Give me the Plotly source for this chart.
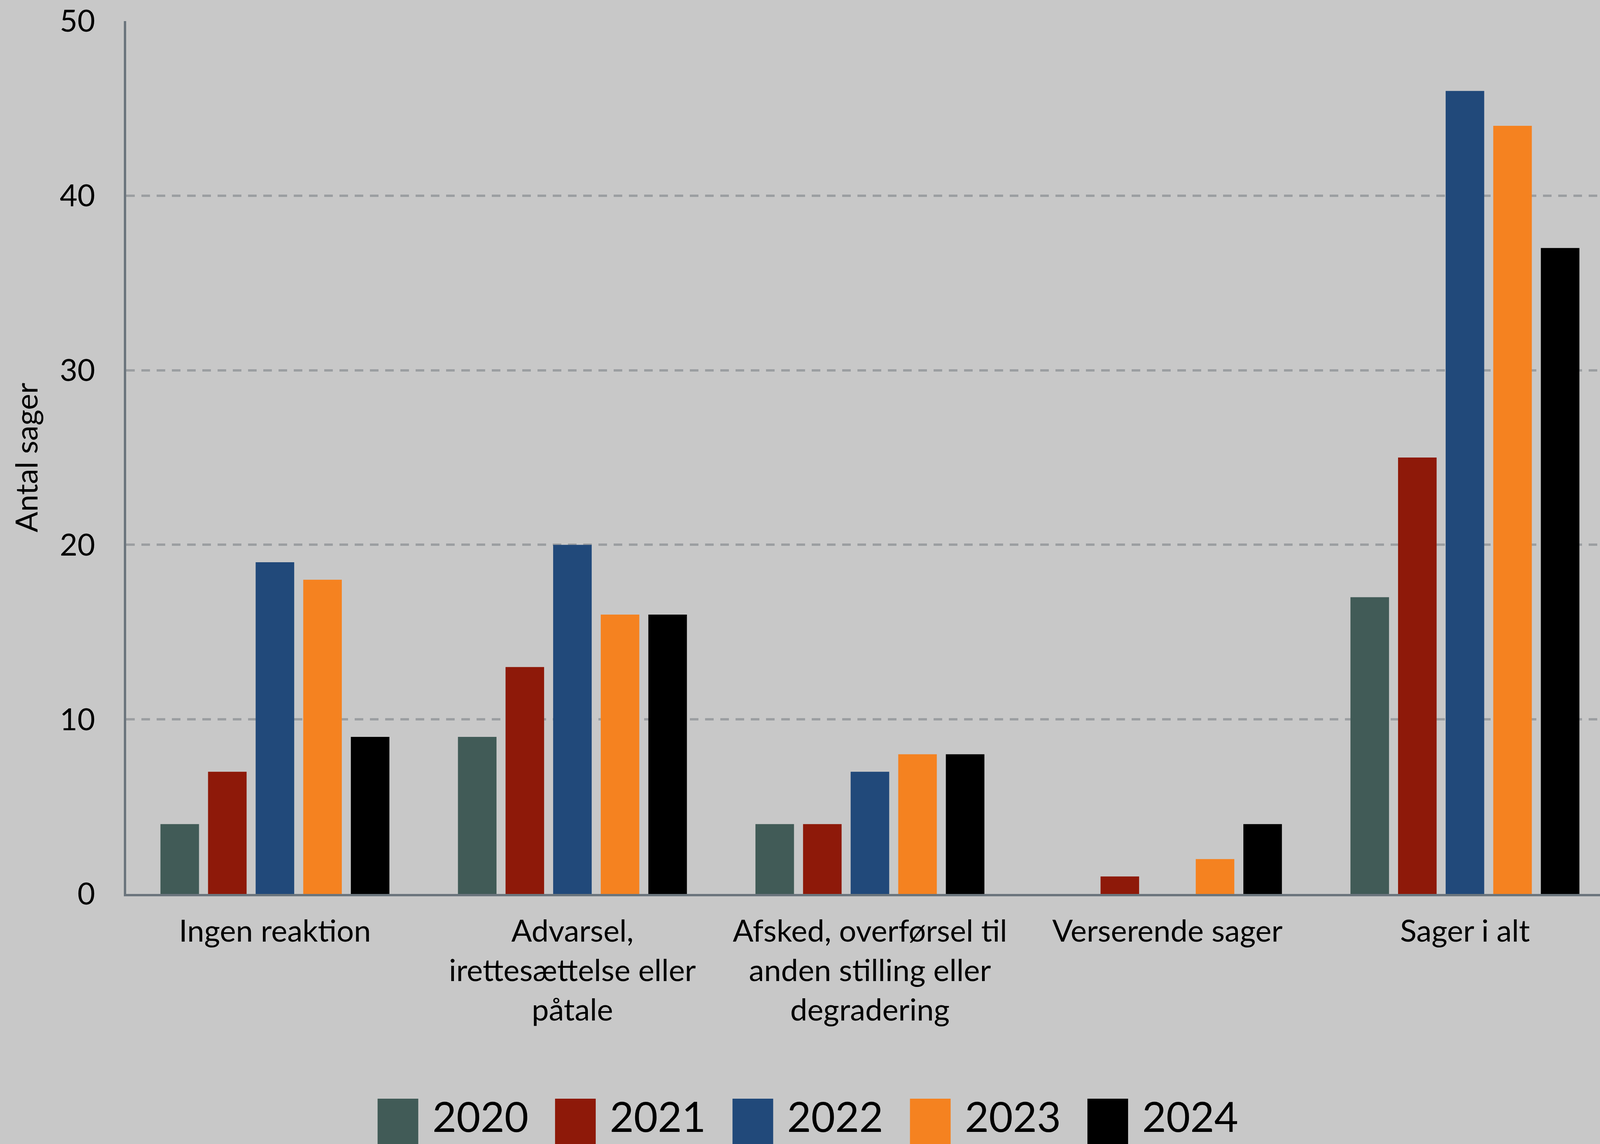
import plotly.graph_objects as go

categories = [
    "Ingen reaktion",
    "Advarsel,<br>irettesættelse eller<br>påtale",
    "Afsked, overførsel til<br>anden stilling eller<br>degradering",
    "Verserende sager",
    "Sager i alt",
]
years = ["2020", "2021", "2022", "2023", "2024"]
v2020 = [4, 9, 4, 0, 17]
v2021 = [7, 13, 4, 1, 25]
v2022 = [19, 20, 7, 0, 46]
v2023 = [18, 16, 8, 2, 44]
v2024 = [9, 16, 8, 4, 37]
y_ticks = [0, 10, 20, 30, 40, 50]

series = [v2020, v2021, v2022, v2023, v2024]
colors = ["#415b57", "#8e1909", "#21497a", "#f58220", "#000000"]

# the page is photographed in a 4096x2928 viewport
W, H = 4096, 2928
SX = W / 4445.0
ML, MR, MT, MB = round(351 * SX), 0, 54, 640
PW, PH = W - ML - MR, H - MT - MB


def px_x(px):
    return (px * SX - ML) / PW


def px_y(py):
    return (H - MB - py) / PH


FONT = "Lato"
BG = "#c8c8c8"
FS = 78

fig = go.Figure()
for yr, vals, col in zip(years, series, colors):
    fig.add_trace(go.Bar(
        x=list(range(len(categories))), y=vals, name=yr,
        marker=dict(color=col, line=dict(width=0)),
        showlegend=False,
    ))

shapes = []
annotations = []
for i, (yr, col) in enumerate(zip(years, colors)):
    x0 = 1049 + i * 493
    shapes.append(dict(
        type="rect", xref="paper", yref="paper",
        x0=px_x(x0), x1=px_x(x0 + 113), y0=px_y(2812), y1=px_y(2990),
        fillcolor=col, line=dict(width=0), layer="above",
    ))
    annotations.append(dict(
        xref="paper", yref="paper", x=px_x(x0 + 150), y=px_y(2856),
        text=yr, showarrow=False, xanchor="left", yanchor="middle",
        font=dict(family=FONT, size=106, color="#000000"),
    ))

fig.update_layout(
    width=W, height=H,
    margin=dict(l=ML, r=MR, t=MT, b=MB, autoexpand=False),
    paper_bgcolor=BG, plot_bgcolor=BG,
    barmode="group", bargap=0.2, bargroupgap=0.19,
    font=dict(family=FONT, size=FS, color="#000000"),
    shapes=shapes, annotations=annotations,
    showlegend=False,
)
fig.update_xaxes(
    tickmode="array", tickvals=list(range(len(categories))), ticktext=categories,
    range=[-0.5, 4.454], showgrid=False, zeroline=False,
    showline=True, linecolor="#6b757d", linewidth=6,
    ticks="", ticklabelstandoff=22,
    tickfont=dict(family=FONT, size=FS, color="#000000"),
)
fig.update_yaxes(
    range=[0, 50], tickvals=y_ticks, showgrid=True, gridcolor="#9b9ea1",
    gridwidth=6, griddash="22px,17px", zeroline=False,
    showline=True, linecolor="#6b757d", linewidth=6,
    ticks="", ticklabelstandoff=58,
    tickfont=dict(family=FONT, size=FS, color="#000000"),
    title=dict(text="Antal sager", font=dict(family=FONT, size=FS, color="#000000"), standoff=33),
)

fig.write_html(
    "out.html",
    config={"displayModeBar": False},
    post_script="document.body.style.margin='0';",
)
